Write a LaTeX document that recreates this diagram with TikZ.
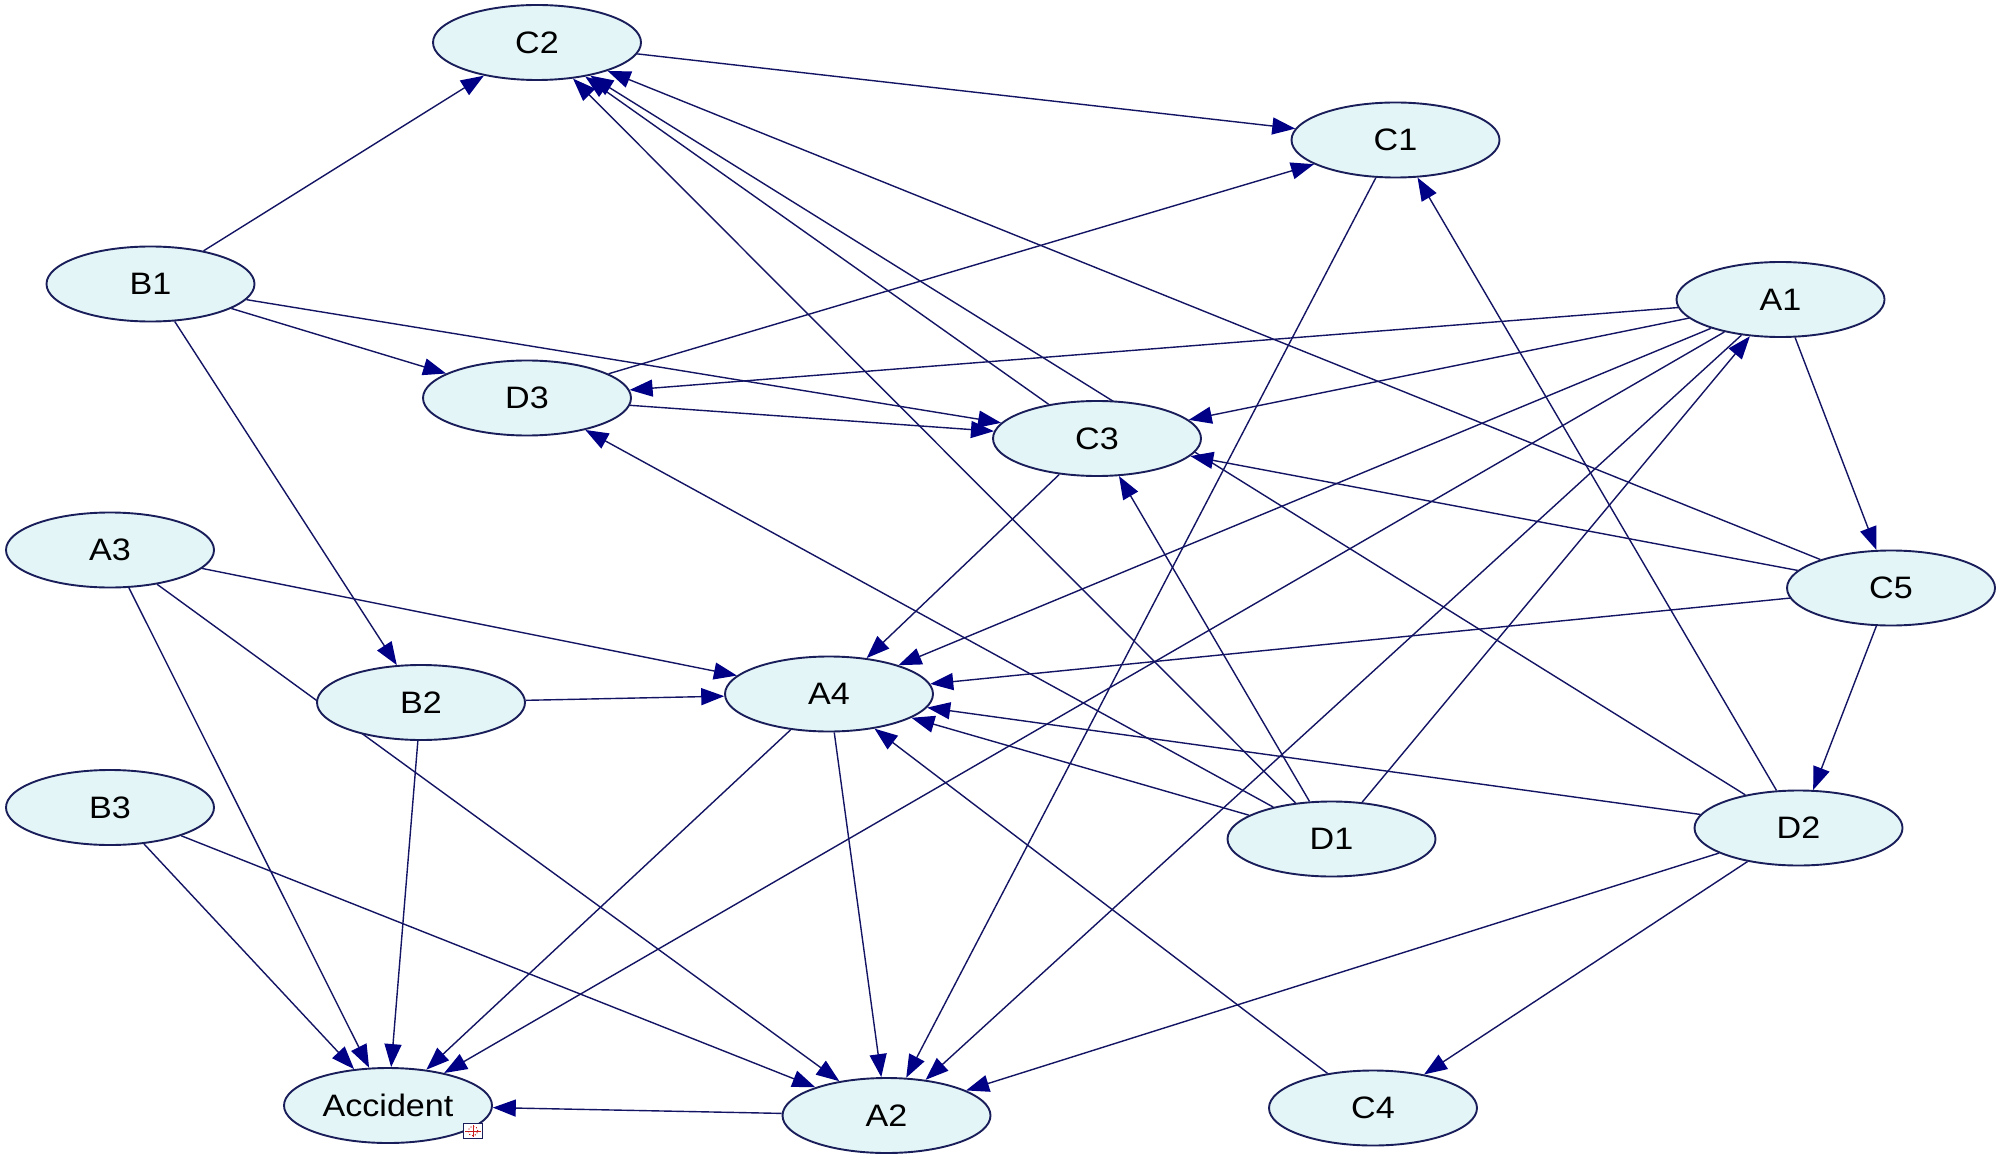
\documentclass[tikz,border=0pt]{standalone}
\usepackage{fontspec}
\setmainfont{Liberation Sans}[FakeStretch=1.1]
\usetikzlibrary{arrows.meta,shapes.geometric}
\definecolor{nodefill}{RGB}{228,245,247}
\definecolor{nodeborder}{RGB}{25,30,90}
\definecolor{edgecol}{RGB}{20,20,100}
\definecolor{arrowcol}{RGB}{0,0,135}
\definecolor{iconred}{RGB}{200,30,30}
\pgfdeclarelayer{bg}
\pgfsetlayers{bg,main}
\begin{document}
\begin{tikzpicture}[x=0.5pt,y=-0.5pt,
  bnode/.style={ellipse, draw=nodeborder, line width=0.95pt, fill=nodefill,
    minimum width=104pt, minimum height=37.5pt, inner sep=0pt,
    font=\fontsize{15.5}{17}\selectfont},
  edge/.style={draw=edgecol, line width=0.7pt,
    -{Triangle[length=11.5pt,width=8.5pt,color=arrowcol]}}]
\useasboundingbox (0,0) rectangle (2000,1160);

\node[bnode] (C2) at (537,42.5) {C2};
\node[bnode] (C1) at (1395.5,140) {C1};
\node[bnode] (B1) at (150.5,284) {B1};
\node[bnode] (A1) at (1780.5,299.5) {A1};
\node[bnode] (D3) at (527,398) {D3};
\node[bnode] (C3) at (1097,438.5) {C3};
\node[bnode] (A3) at (110,550) {A3};
\node[bnode] (C5) at (1891,588) {C5};
\node[bnode] (B2) at (421,702.5) {B2};
\node[bnode] (A4) at (829,694) {A4};
\node[bnode] (B3) at (110,807.5) {B3};
\node[bnode] (D1) at (1331.5,839) {D1};
\node[bnode] (D2) at (1798.5,828) {D2};
\node[bnode] (Acc) at (388,1105.5) {Accident};
\node[bnode] (A2) at (886.5,1115.5) {A2};
\node[bnode] (C4) at (1373,1108) {C4};

% small icon of the Accident node
\node[draw=nodeborder, fill=white, line width=0.5pt, minimum width=9.5pt,
  minimum height=7.5pt, inner sep=0pt] (icon) at (473,1131) {};
\draw[iconred, line width=0.5pt, densely dotted] (icon.center) circle (2.4pt);
\draw[iconred, line width=0.45pt] ([yshift=3pt]icon.center) -- ([yshift=-3pt]icon.center)
  ([xshift=-3.8pt]icon.center) -- ([xshift=3.8pt]icon.center);

\begin{pgfonlayer}{bg}
\fill[white] (0,0) rectangle (2000,1160);
\draw[edge] (B1) -- (C2);
\draw[edge] (C2) -- (C1);
\draw[edge] (B1) -- (D3);
\draw[edge] (B1) -- (C3);
\draw[edge] (B1) -- (B2);
\draw[edge] (D3) -- (C1);
\draw[edge] (D3) -- (C3);
\draw[edge] (A1) -- (D3);
\draw[edge] (A1) -- (C3);
\draw[edge] (A1) -- (A4);
\draw[edge] (A1) -- (Acc);
\draw[edge] (A1) -- (A2);
\draw[edge] (A1) -- (C5);
\draw[edge] (D1) -- (A1);
\draw[edge] (C3) -- (C2);
\draw[edge] (D1) -- (C2);
\draw[edge] (D2) -- (C2);
\draw[edge] (C5) -- (C2);
\draw[edge] (C3) -- (A4);
\draw[edge] (C5) -- (C3);
\draw[edge] (D1) -- (C3);
\draw[edge] (D1) -- (D3);
\draw[edge] (C5) -- (A4);
\draw[edge] (C5) -- (D2);
\draw[edge] (D2) -- (C1);
\draw[edge] (D2) -- (A4);
\draw[edge] (D1) -- (A4);
\draw[edge] (D2) -- (A2);
\draw[edge] (D2) -- (C4);
\draw[edge] (C4) -- (A4);
\draw[edge] (A3) -- (A4);
\draw[edge] (A3) -- (Acc);
\draw[edge] (A3) -- (A2);
\draw[edge] (B2) -- (A4);
\draw[edge] (B2) -- (Acc);
\draw[edge] (B3) -- (Acc);
\draw[edge] (B3) -- (A2);
\draw[edge] (A4) -- (Acc);
\draw[edge] (A4) -- (A2);
\draw[edge] (A2) -- (Acc);
\draw[edge] (C1) -- (A2);
\end{pgfonlayer}
\end{tikzpicture}
\end{document}
